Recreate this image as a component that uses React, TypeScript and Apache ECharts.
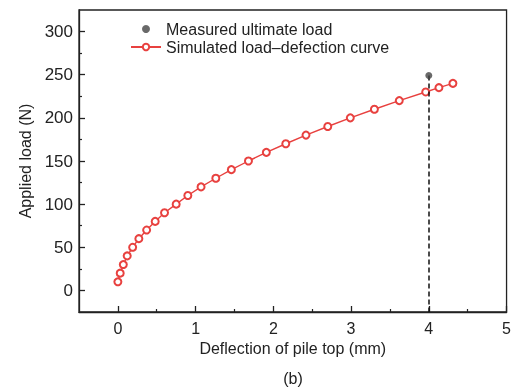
import React, { useEffect, useRef } from "react";
import * as echarts from "echarts";

const deflection = [0.0, 0.03, 0.07, 0.12, 0.19, 0.27, 0.37, 0.48, 0.6, 0.75, 0.9, 1.07, 1.26, 1.46, 1.68, 1.91, 2.16, 2.42, 2.7, 2.99, 3.3, 3.62, 3.96, 4.13, 4.31];
const load = [10, 20, 30, 40, 50, 60, 70, 80, 90, 100, 110, 120, 130, 140, 150, 160, 170, 180, 190, 200, 210, 220, 230, 235, 240];
const measured = [[4.0, 249]];
const xMajor = [0, 1, 2, 3, 4, 5];
const xMinor = [0.5, 1.5, 2.5, 3.5, 4.5];
const yMajor = [0, 50, 100, 150, 200, 250, 300];
const yMinor = [25, 75, 125, 175, 225, 275];

const FONT = "'Liberation Sans', Arial, sans-serif";
const INK = "#222";
const RED = "#e8413f";

export default function App() {
  const ref = useRef<HTMLDivElement>(null);
  useEffect(() => {
    if (!ref.current) return;
    const chart = echarts.init(ref.current, null, { renderer: "svg" });
    const axisLine = { show: true, onZero: false, lineStyle: { color: INK, width: 1.3 } };
    chart.setOption({
      animation: false,
      textStyle: { fontFamily: FONT },
      grid: { left: 79, right: 7, top: 10, bottom: 78, show: true, borderColor: INK, borderWidth: 1.3 },
      legend: {
        orient: "vertical",
        left: 125,
        top: 16,
        itemWidth: 30,
        itemHeight: 8,
        itemGap: 2,
        textStyle: { fontSize: 16, color: INK, fontFamily: FONT },
        data: ["Measured ultimate load", "Simulated load\u2013defection curve"],
      },
      xAxis: [
        {
          type: "value",
          min: -0.5,
          max: 5,
          axisLine,
          splitLine: { show: false },
          axisTick: { inside: true, length: 6, customValues: xMajor, lineStyle: { color: INK, width: 1.3 } },
          axisLabel: { customValues: xMajor, fontSize: 16, color: INK, margin: 8, fontFamily: FONT },
          name: "Deflection of pile top (mm)",
          nameLocation: "middle",
          nameGap: 28,
          nameTextStyle: { fontSize: 16, color: INK, fontFamily: FONT },
        },
        {
          type: "value",
          min: -0.5,
          max: 5,
          position: "bottom",
          axisLine: { show: false, onZero: false },
          splitLine: { show: false },
          axisTick: { inside: true, length: 3, customValues: xMinor, lineStyle: { color: INK, width: 1.2 } },
          axisLabel: { show: false },
        },
      ],
      yAxis: [
        {
          type: "value",
          min: -25,
          max: 325,
          axisLine,
          splitLine: { show: false },
          axisTick: { inside: true, length: 6, customValues: yMajor, lineStyle: { color: INK, width: 1.3 } },
          axisLabel: { customValues: yMajor, fontSize: 17, color: INK, margin: 6, fontFamily: FONT },
          name: "Applied load (N)",
          nameLocation: "middle",
          nameGap: 42,
          nameTextStyle: { fontSize: 16, color: INK, fontFamily: FONT },
        },
        {
          type: "value",
          min: -25,
          max: 325,
          position: "left",
          axisLine: { show: false, onZero: false },
          splitLine: { show: false },
          axisTick: { inside: true, length: 3, customValues: yMinor, lineStyle: { color: INK, width: 1.2 } },
          axisLabel: { show: false },
        },
      ],
      graphic: [
        {
          type: "text",
          x: 293,
          y: 378,
          style: { text: "(b)", fontSize: 16, fill: INK, fontFamily: FONT, textAlign: "center", textVerticalAlign: "middle" },
        },
      ],
      series: [
        {
          name: "Measured ultimate load",
          type: "scatter",
          xAxisIndex: 0,
          yAxisIndex: 0,
          symbol: "circle",
          symbolSize: 7,
          itemStyle: { color: "#444" },
          data: measured,
          z: 5,
          markLine: {
            silent: true,
            symbol: "none",
            label: { show: false },
            lineStyle: { color: "#111", type: [5, 3], width: 1.5 },
            data: [[{ coord: [measured[0][0], measured[0][1]] }, { coord: [measured[0][0], -25] }]],
          },
        },
        {
          name: "Simulated load\u2013defection curve",
          type: "line",
          xAxisIndex: 0,
          yAxisIndex: 0,
          symbol: "emptyCircle",
          symbolSize: 7,
          lineStyle: { color: RED, width: 1.4 },
          itemStyle: { color: RED, borderColor: RED, borderWidth: 1.4 },
          data: deflection.map((d, i) => [d, load[i]]),
          z: 4,
        },
      ],
    });
    return () => chart.dispose();
  }, []);
  return <div ref={ref} style={{ position: "fixed", left: 0, top: 0, width: 514, height: 390 }} />;
}
